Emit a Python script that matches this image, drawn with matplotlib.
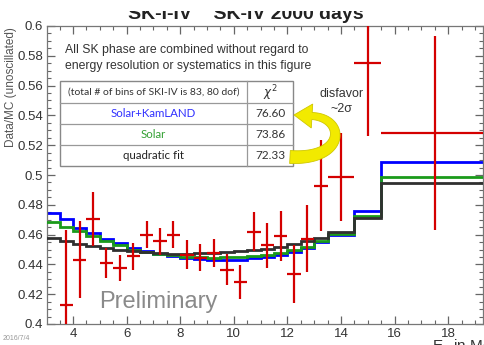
import matplotlib
matplotlib.use("Agg")
import numpy as np
import matplotlib.pyplot as plt
from matplotlib.patches import Rectangle, Polygon
from matplotlib.ticker import MultipleLocator

plt.rcParams['font.family'] = ['Liberation Sans', 'DejaVu Sans']

# ---- data ----
edges = [3.0, 3.5, 4.0, 4.5, 5.0, 5.5, 6.0, 6.5, 7.0, 7.5, 8.0, 8.5, 9.0, 9.5,
         10.0, 10.5, 11.0, 11.5, 12.0, 12.5, 13.0, 13.5, 14.5, 15.5, 19.5]
solar_kamland = [0.4748, 0.4707, 0.4646, 0.4608, 0.4568, 0.4541, 0.4511, 0.4489,
                 0.4470, 0.4455, 0.4444, 0.4437, 0.4432, 0.4430, 0.4432, 0.4440,
                 0.4452, 0.4466, 0.4484, 0.4510, 0.4548, 0.4600, 0.4759, 0.5086]
solar = [0.4685, 0.4653, 0.4624, 0.4590, 0.4556, 0.4527, 0.4500, 0.4486,
         0.4472, 0.4460, 0.4452, 0.4448, 0.4446, 0.4448, 0.4452, 0.4458,
         0.4466, 0.4478, 0.4494, 0.4516, 0.4556, 0.4601, 0.4725, 0.4984]
quadratic = [0.4579, 0.4556, 0.4538, 0.4522, 0.4511, 0.4500, 0.4489, 0.4480,
             0.4475, 0.4472, 0.4472, 0.4474, 0.4478, 0.4484, 0.4490, 0.4497,
             0.4506, 0.4518, 0.4534, 0.4555, 0.4578, 0.4617, 0.4714, 0.4944]

data_x = [3.75, 4.25, 4.75, 5.25, 5.75, 6.25, 6.75, 7.25, 7.75, 8.25, 8.75, 9.25,
          9.75, 10.25, 10.75, 11.25, 11.75, 12.25, 12.75, 13.25, 14.0, 15.0, 17.5]
data_xerr = [0.25] * 20 + [0.5, 0.5, 2.0]
data_y = [0.4128, 0.4432, 0.4703, 0.4410, 0.4376, 0.4455, 0.4600, 0.4556, 0.4600,
          0.4466, 0.4444, 0.4477, 0.4365, 0.4282, 0.4620, 0.4529, 0.4590, 0.4338,
          0.4572, 0.4928, 0.4984, 0.5754, 0.5284]
data_yerr = [0.050, 0.026, 0.018, 0.010, 0.009, 0.009, 0.009, 0.009, 0.009,
             0.0095, 0.009, 0.0095, 0.0105, 0.0115, 0.013, 0.015, 0.017, 0.0195,
             0.0225, 0.0304, 0.0295, 0.049, 0.065]

table_models = ["Solar+KamLAND", "Solar", "quadratic fit"]
table_chi2 = ["76.60", "73.86", "72.33"]
table_colors = ["#3030ff", "#33a033", "#222222"]

# ---- figure ----
W, H = 485, 345
fig = plt.figure(figsize=(W / 100, H / 100), dpi=100)
ax = fig.add_axes([47 / W, 1 - 324 / H, (483 - 47) / W, (324 - 26) / H])

ax.stairs(solar_kamland, edges, color="#0000ff", lw=2.0, zorder=2, baseline=None)
ax.stairs(solar, edges, color="#1a9a1a", lw=2.0, zorder=3, baseline=None)
ax.stairs(quadratic, edges, color="#303030", lw=2.0, zorder=4, baseline=None)
ax.errorbar(data_x, data_y, xerr=data_xerr, yerr=data_yerr, fmt="none",
            ecolor="#d40000", elinewidth=1.6, capsize=0, zorder=5)

ax.set_xlim(3.03, 19.3)
ax.set_ylim(0.4, 0.6)
ax.xaxis.set_major_locator(MultipleLocator(2))
ax.xaxis.set_minor_locator(MultipleLocator(0.5))
ax.yaxis.set_major_locator(MultipleLocator(0.02))
ax.yaxis.set_minor_locator(MultipleLocator(0.005))
ax.yaxis.set_major_formatter(matplotlib.ticker.FormatStrFormatter('%g'))
ax.tick_params(which="both", direction="in", top=True, right=True,
               colors="#666666", labelcolor="#333333", labelsize=9.5, pad=3)
ax.tick_params(which="major", length=6, width=0.9)
ax.tick_params(which="minor", length=3, width=0.8)
for s in ax.spines.values():
    s.set_color("#777777")
    s.set_linewidth(0.9)

# ---- overlay in pixel coordinates ----
ov = fig.add_axes([0, 0, 1, 1], zorder=5)
ov.set_xlim(0, W)
ov.set_ylim(H, 0)
ov.axis("off")
ov.patch.set_alpha(0)

# partially hidden title (top covered as in the slide)
ov.text(246, 19, "SK-I-IV    SK-IV 2000 days", ha="center", va="baseline",
        fontsize=14, color="#222222", fontweight="bold", zorder=1)
ov.add_patch(Rectangle((100, 0), 300, 10.5, facecolor="white", edgecolor="none",
                       zorder=2))

ov.text(11, 87, "Data/MC (unoscillated)", rotation=90, ha="center", va="center",
        fontsize=8.5, color="#555555")
ov.text(65, 50, "All SK phase are combined without regard to", ha="left",
        va="center", fontsize=8.8, color="#333333")
ov.text(65, 66, "energy resolution or systematics in this figure", ha="left",
        va="center", fontsize=8.8, color="#333333")

# table
tx0, tx1, tcol = 60, 293, 247
rows = [81, 103, 124, 145, 166]
ov.add_patch(Rectangle((tx0, rows[0]), tx1 - tx0, rows[-1] - rows[0],
                       facecolor="white", edgecolor="#888888", lw=1.0, zorder=1))
for yy in rows[1:-1]:
    ov.plot([tx0, tx1], [yy, yy], color="#999999", lw=0.9, zorder=2)
ov.plot([tcol, tcol], [rows[0], rows[-1]], color="#999999", lw=0.9, zorder=2)
ov.text((tx0 + tcol) / 2, (rows[0] + rows[1]) / 2,
        "(total # of bins of SKI-IV is 83, 80 dof)", ha="center", va="center",
        fontsize=7.5, color="#333333", family=["Lato", "DejaVu Sans"], zorder=3)
ov.text((tcol + tx1) / 2, (rows[0] + rows[1]) / 2 + 1, r"$\chi^2$", ha="center",
        va="center", fontsize=8.5, color="#333333", zorder=3)
for i, (m, c, col) in enumerate(zip(table_models, table_chi2, table_colors)):
    yc = (rows[i + 1] + rows[i + 2]) / 2
    ov.text((tx0 + tcol) / 2, yc, m, ha="center", va="center", fontsize=8.3,
            color=col, family=["Lato", "DejaVu Sans"], zorder=3)
    ov.text((tcol + tx1) / 2, yc, c, ha="center", va="center", fontsize=8.5,
            color="#333333", family=["Lato", "DejaVu Sans"], zorder=3)

# yellow curved arrow (tapered band + head)
P = np.array([[290, 157], [346, 160], [346, 118], [312, 116]], float)
t = np.linspace(0, 1, 60)[:, None]
pts = ((1 - t) ** 3 * P[0] + 3 * (1 - t) ** 2 * t * P[1]
       + 3 * (1 - t) * t ** 2 * P[2] + t ** 3 * P[3])
der = (3 * (1 - t) ** 2 * (P[1] - P[0]) + 6 * (1 - t) * t * (P[2] - P[1])
       + 3 * t ** 2 * (P[3] - P[2]))
nrm = np.column_stack([-der[:, 1], der[:, 0]])
nrm /= np.linalg.norm(nrm, axis=1)[:, None]
half = (6.5 - 3.0 * t[:, 0])[:, None]
left = pts + nrm * half
right = pts - nrm * half
tang = der[-1] / np.linalg.norm(der[-1])
n_end = nrm[-1]
head = [P[3] + n_end * 12, P[3] + tang * 18, P[3] - n_end * 12]
poly = np.vstack([left, head, right[::-1]])
ov.add_patch(Polygon(poly, closed=True, facecolor="#f2ea00", edgecolor="#cfc700",
                     lw=0.6, zorder=4))

ov.text(342, 94, "disfavor", ha="center", va="center", fontsize=9,
        color="#333333")
ov.text(342, 109, "~2σ", ha="center", va="center", fontsize=9,
        color="#333333")

ov.text(158, 302, "Preliminary", ha="center", va="center", fontsize=17,
        color="#8a8a8a")
ov.text(3, 338, "2016/7/4", ha="left", va="center", fontsize=5,
        color="#999999")
ov.text(432, 337, r"E$_{\rm e}$ in MeV", ha="left", va="top", fontsize=11,
        color="#333333")

fig.savefig("out.png", dpi=100)
